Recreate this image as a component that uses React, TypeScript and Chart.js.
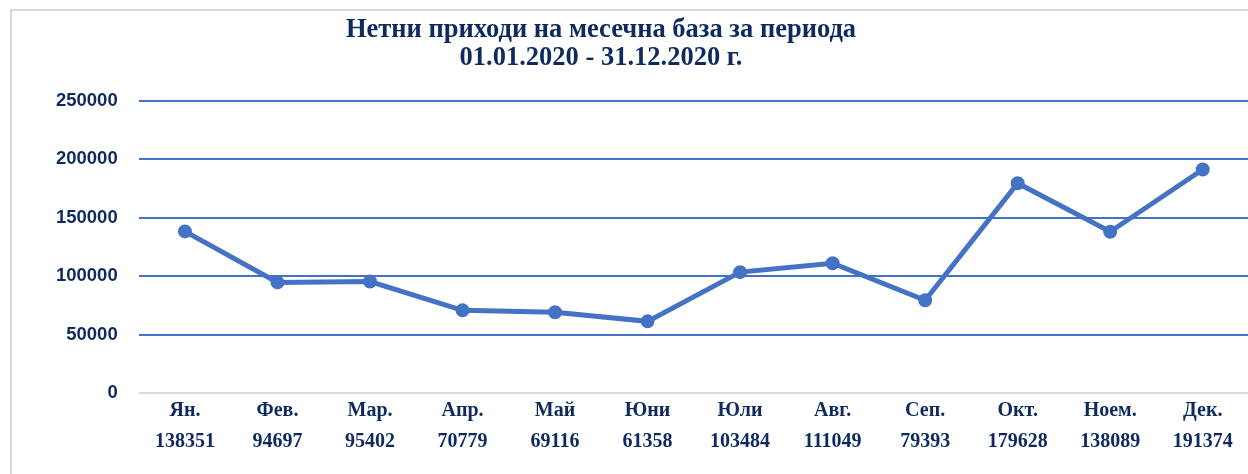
import React, { useEffect, useRef } from "react";
import { Chart, registerables } from "chart.js";

Chart.register(...registerables);

const months = ["Ян.", "Фев.", "Мар.", "Апр.", "Май", "Юни", "Юли", "Авг.", "Сеп.", "Окт.", "Ноем.", "Дек."];
const revenue = [138351, 94697, 95402, 70779, 69116, 61358, 103484, 111049, 79393, 179628, 138089, 191374];
const titleLines = ["Нетни приходи на месечна база за периода", "01.01.2020 - 31.12.2020 г."];
const yMin = 0;
const yMax = 250000;
const yStep = 50000;

const NAVY = "#0f2a5f";
const BLUE = "#4472c4";
const SERIF = "'Liberation Serif', 'Times New Roman', serif";

export default function App() {
  const canvasRef = useRef<HTMLCanvasElement | null>(null);

  useEffect(() => {
    const canvas = canvasRef.current;
    if (!canvas) return;
    const labels = months.map((m, i) => [m, String(revenue[i])]);
    const chart = new Chart(canvas, {
      type: "line",
      data: {
        labels,
        datasets: [
          {
            data: revenue,
            borderColor: BLUE,
            backgroundColor: BLUE,
            borderWidth: 5,
            pointRadius: 6,
            pointBorderWidth: 2,
            pointBackgroundColor: BLUE,
            pointBorderColor: BLUE,
            tension: 0,
            fill: false,
          },
        ],
      },
      options: {
        animation: false,
        responsive: false,
        maintainAspectRatio: false,
        layout: { padding: { top: 90, right: 23, left: 0, bottom: 0 } },
        plugins: {
          legend: { display: false },
          tooltip: { enabled: false },
          title: { display: false },
        },
        scales: {
          x: {
            offset: true,
            grid: { display: false, drawTicks: false, offset: true },
            border: { display: false },
            ticks: {
              color: NAVY,
              padding: 3,
              maxRotation: 0,
              autoSkip: false,
              font: { family: SERIF, size: 20, weight: "bold", lineHeight: "30.5px" as any },
            },
            afterFit: (scale: any) => {
              scale.height = 88;
            },
          },
          y: {
            min: yMin,
            max: yMax,
            grid: {
              drawTicks: false,
              lineWidth: 2,
              color: (ctx: any) => (ctx.tick && ctx.tick.value === 0 ? "#d9d9d9" : BLUE),
            },
            border: { display: false },
            ticks: {
              stepSize: yStep,
              color: NAVY,
              padding: 21,
              font: { family: "'Liberation Sans', Arial, sans-serif", size: 18.5, weight: "bold" },
              callback: (v: any) => String(v),
            },
            afterFit: (scale: any) => {
              scale.width = 126.7;
            },
          },
        },
      },
    });
    return () => chart.destroy();
  }, []);

  return (
    <div style={{ position: "fixed", left: 0, top: 0, width: 1248, height: 474, overflow: "hidden", background: "#fff" }}>
      <div
        style={{
          position: "absolute",
          left: 10,
          top: 9,
          width: 1300,
          height: 520,
          border: "2px solid #d9d9d9",
          boxSizing: "border-box",
        }}
      />
      <canvas ref={canvasRef} width={1260} height={470} style={{ position: "absolute", left: 12, top: 11, width: 1260, height: 470 }} />
      <div
        style={{
          position: "absolute",
          left: 12,
          top: 14,
          width: 1178,
          textAlign: "center",
          fontFamily: SERIF,
          fontWeight: "bold",
          fontSize: 26.5,
          lineHeight: "28px",
          color: NAVY,
        }}
      >
        {titleLines.map((t, i) => (
          <div key={i}>{t}</div>
        ))}
      </div>
    </div>
  );
}
